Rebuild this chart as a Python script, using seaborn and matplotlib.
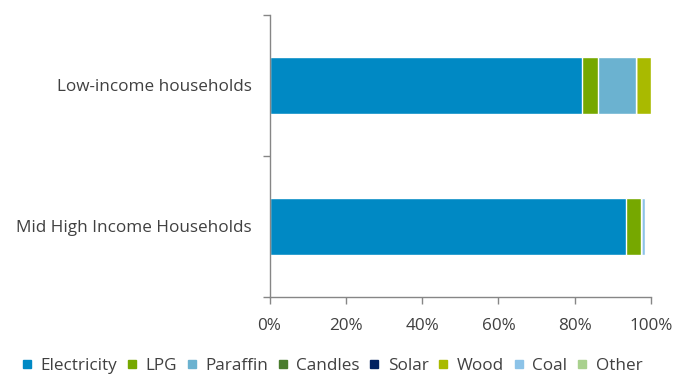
import numpy as np
import pandas as pd
import matplotlib
matplotlib.use("Agg")
import matplotlib.pyplot as plt
from matplotlib.lines import Line2D
import seaborn as sns

# Household energy source shares (%)
groups = ["Low-income households", "Mid High Income Households"]
sources = ["Electricity", "LPG", "Paraffin", "Candles", "Solar", "Wood", "Coal", "Other"]
electricity = [82.0, 93.5]
lpg = [4.0, 4.0]
paraffin = [10.0, 0.0]
candles = [0.0, 0.0]
solar = [0.0, 0.0]
wood = [4.0, 0.0]
coal = [0.0, 0.8]
other = [0.0, 0.0]
colors = ["#0089C4", "#76A800", "#6BB2D0", "#4A7C2E", "#002060", "#A9BA00", "#8CC3E8", "#A9D18E"]
xticks = [0, 20, 40, 60, 80, 100]

sns.set_theme(style="white")
plt.rcParams["font.family"] = ["Open Sans", "DejaVu Sans"]

values = pd.DataFrame(
    {"Electricity": electricity, "LPG": lpg, "Paraffin": paraffin, "Candles": candles,
     "Solar": solar, "Wood": wood, "Coal": coal, "Other": other},
    index=groups,
)
cum = values.cumsum(axis=1)

fig = plt.figure(figsize=(6.75, 3.74), dpi=100)
ax = fig.add_axes([0.3993, 0.2059, 0.5652, 0.7540])

# Stacked bars: draw cumulative totals from the outermost segment inwards
for src, col in reversed(list(zip(sources, colors))):
    df = pd.DataFrame({"group": groups, "value": cum[src].values})
    sns.barplot(data=df, x="value", y="group", orient="h", color=col,
                saturation=1, width=0.40, edgecolor="white", linewidth=1.0, ax=ax)

text_color = "#404040"
axis_color = "#868686"
fs = 12.3
ax.set_xlim(0, 100)
ax.set_ylim(1.5, -0.5)
ax.set_xlabel("")
ax.set_ylabel("")
ax.set_xticks(xticks)
ax.set_xticklabels([f"{t}%" for t in xticks], fontsize=fs, color=text_color)
ax.set_yticks([-0.5, 0.5, 1.5])
ax.set_yticklabels([])
ax.set_yticks([0, 1], minor=True)
ax.set_yticklabels(groups, minor=True, fontsize=fs, color=text_color)
ax.tick_params(axis="y", which="major", length=5, width=1, color=axis_color, direction="out", left=True)
ax.tick_params(axis="y", which="minor", length=0, pad=13)
ax.tick_params(axis="x", length=5, width=1, color=axis_color, direction="out", bottom=True, pad=10)

for side in ["top", "right"]:
    ax.spines[side].set_visible(False)
for side in ["left", "bottom"]:
    ax.spines[side].set_color(axis_color)
    ax.spines[side].set_linewidth(1)

handles = [Line2D([0], [0], marker="s", linestyle="none", markersize=6,
                  markerfacecolor=c, markeredgecolor=c) for c in colors]
fig.legend(handles, sources, loc="center", bbox_to_anchor=(0.492, 0.022), ncol=8,
           frameon=False, fontsize=fs, labelcolor=text_color,
           handlelength=0.6, handletextpad=0.5, columnspacing=0.55)

fig.savefig("out.png", dpi=100)
